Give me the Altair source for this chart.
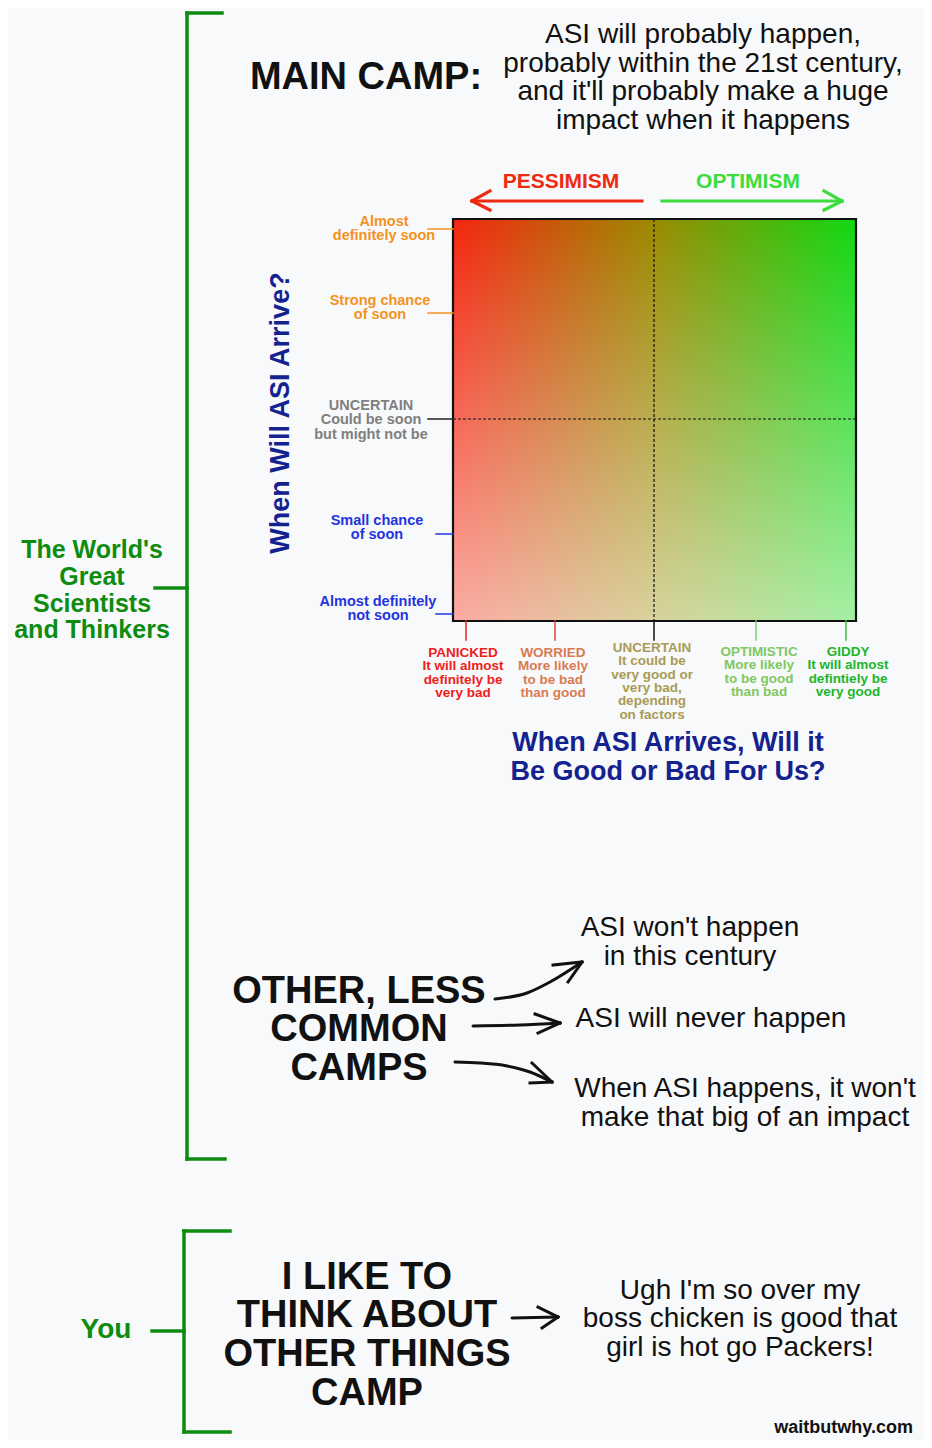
import altair as alt
import pandas as pd

# ---------------- data (texts, categories, colours) ----------------
main_camp_label = "MAIN CAMP:"
main_camp_desc = ["ASI will probably happen,", "probably within the 21st century,",
                  "and it'll probably make a huge", "impact when it happens"]

direction_labels = ["PESSIMISM", "OPTIMISM"]
direction_colors = ["#ee2a12", "#3ddc3d"]

y_axis_title = "When Will ASI Arrive?"
y_labels = [["Almost", "definitely soon"],
            ["Strong chance", "of soon"],
            ["UNCERTAIN", "Could be soon", "but might not be"],
            ["Small chance", "of soon"],
            ["Almost definitely", "not soon"]]
y_colors = ["#f4921e", "#f4921e", "#7f7f7f", "#2234dc", "#2234dc"]
y_tick_colors = ["#f4921e", "#f4921e", "#222222", "#2234dc", "#2234dc"]

x_axis_title = ["When ASI Arrives, Will it", "Be Good or Bad For Us?"]
x_categories = ["PANICKED", "WORRIED", "UNCERTAIN", "OPTIMISTIC", "GIDDY"]
x_descriptions = [["It will almost", "definitely be", "very bad"],
                  ["More likely", "to be bad", "than good"],
                  ["It could be", "very good or", "very bad,", "depending", "on factors"],
                  ["More likely", "to be good", "than bad"],
                  ["It will almost", "defintiely be", "very good"]]
x_colors = ["#ee2020", "#d97b52", "#a89b55", "#80c862", "#20b52c"]
x_tick_colors = ["#ee2020", "#e0402e", "#111111", "#7fd06a", "#34c040"]

# horizontal colour ramp of the grid (pessimism -> optimism) and lightening toward "not soon"
ramp_colors = ["#f52510", "#9a8a00", "#10d812"]
fade_colors = ["rgba(255,255,255,0)", "rgba(255,255,255,0.62)"]

group_label = ["The World's", "Great", "Scientists", "and Thinkers"]
other_camps_label = ["OTHER, LESS", "COMMON", "CAMPS"]
other_camps = [["ASI won't happen", "in this century"],
               ["ASI will never happen"],
               ["When ASI happens, it won't", "make that big of an impact"]]
you_label = "You"
you_camp_label = ["I LIKE TO", "THINK ABOUT", "OTHER THINGS", "CAMP"]
you_camp_desc = ["Ugh I'm so over my", "boss chicken is good that", "girl is hot go Packers!"]
credit = "waitbutwhy.com"

# ---------------- layout (page pixels) ----------------
FONT = "Liberation Sans"
GREEN = "#0e8c10"
NAVY = "#14228f"
BLACK = "#111111"
W, H = 916, 1432
xs = alt.Scale(domain=[8, 924], nice=False, zero=False)
ys = alt.Scale(domain=[8, 1440], nice=False, zero=False, reverse=True)

SQ = dict(x=453, x2=856, y=219, y2=621)
XMID, YMID = 654, 419
y_tick_y = [229, 313, 419, 534, 614]
y_tick_x0 = [428, 428, 428, 436, 436]
y_label_x = [384, 380, 371, 377, 378]
y_label_y = [221, 300, 405, 520, 601]
x_tick_x = [466, 555, 654, 756, 846]
x_label_x = [463, 553, 652, 759, 848]
x_label_y = [652, 652, 647, 651, 651]


def X(f="x"):
    return alt.X(f"{f}:Q", scale=xs, axis=None)


def Y(f="y"):
    return alt.Y(f"{f}:Q", scale=ys, axis=None)


def text_layer(rows, size, weight="bold", align="center", lh=None):
    df = pd.DataFrame(rows)
    df["y"] = df["y"] - 0.43 * size  # first-line centre -> top of text block
    return alt.Chart(df).mark_text(
        align=align, baseline="top", fontSize=size, fontWeight=weight, font=FONT,
        lineBreak="\n", lineHeight=lh if lh else size * 1.15
    ).encode(x=X(), y=Y(), text="t:N", color=alt.Color("c:N", scale=None))


layers = []

# gradient square
sq_df = pd.DataFrame([SQ])
layers.append(alt.Chart(sq_df).mark_rect(
    fill=alt.LinearGradient(gradient="linear", x1=0, x2=1, y1=0, y2=0,
                            stops=[alt.GradientStop(color=ramp_colors[0], offset=0),
                                   alt.GradientStop(color=ramp_colors[1], offset=0.5),
                                   alt.GradientStop(color=ramp_colors[2], offset=1)])
).encode(x=X("x"), x2="x2:Q", y=Y("y"), y2="y2:Q"))
layers.append(alt.Chart(sq_df).mark_rect(
    fill=alt.LinearGradient(gradient="linear", x1=0, x2=0, y1=0, y2=1,
                            stops=[alt.GradientStop(color=fade_colors[0], offset=0),
                                   alt.GradientStop(color=fade_colors[1], offset=1)])
).encode(x=X("x"), x2="x2:Q", y=Y("y"), y2="y2:Q"))

# dashed mid lines
mid_df = pd.DataFrame([dict(x=XMID, x2=XMID, y=SQ["y"], y2=SQ["y2"]),
                       dict(x=SQ["x"], x2=SQ["x2"], y=YMID, y2=YMID)])
layers.append(alt.Chart(mid_df).mark_rule(color=BLACK, strokeWidth=1.2, strokeDash=[3, 2]).encode(
    x=X("x"), x2="x2:Q", y=Y("y"), y2="y2:Q"))

# border
layers.append(alt.Chart(sq_df).mark_rect(fill=None, filled=False, stroke=BLACK, strokeWidth=2.2).encode(
    x=X("x"), x2="x2:Q", y=Y("y"), y2="y2:Q"))

# straight segments: ticks, brackets, arrows
segs = []
for i in range(5):
    segs.append(dict(x=y_tick_x0[i], x2=SQ["x"], y=y_tick_y[i], y2=y_tick_y[i], c=y_tick_colors[i], w=1.5))
    segs.append(dict(x=x_tick_x[i], x2=x_tick_x[i], y=SQ["y2"], y2=640, c=x_tick_colors[i], w=1.5))
# brackets
for (bx, top, bot, r1, r2, tick_x, tick_y) in [(187, 13, 1159, 222, 225, 155, 588),
                                                (184, 1231, 1432, 230, 230, 152, 1331)]:
    segs += [dict(x=bx, x2=bx, y=top, y2=bot, c=GREEN, w=3.5),
             dict(x=bx, x2=r1, y=top, y2=top, c=GREEN, w=3.5),
             dict(x=bx, x2=r2, y=bot, y2=bot, c=GREEN, w=3.5),
             dict(x=tick_x, x2=bx, y=tick_y, y2=tick_y, c=GREEN, w=3.5)]
# pessimism / optimism arrows
pc, oc = direction_colors
segs += [dict(x=472, x2=642, y=201, y2=201, c=pc, w=3.2),
         dict(x=472, x2=490, y=201, y2=191, c=pc, w=3.2),
         dict(x=472, x2=490, y=201, y2=210, c=pc, w=3.2),
         dict(x=662, x2=842, y=201, y2=201, c=oc, w=3.2),
         dict(x=842, x2=824, y=201, y2=191, c=oc, w=3.2),
         dict(x=842, x2=824, y=201, y2=210, c=oc, w=3.2)]
# arrow heads of the hand-drawn arrows
for (tx, ty, a1, a2) in [(582, 962, (553, 965), (568, 982)),
                         (560, 1023, (535, 1014), (538, 1033)),
                         (552, 1082, (532, 1063), (530, 1083)),
                         (558, 1317, (538, 1307), (542, 1328))]:
    segs.append(dict(x=a1[0], x2=tx, y=a1[1], y2=ty, c=BLACK, w=3))
    segs.append(dict(x=a2[0], x2=tx, y=a2[1], y2=ty, c=BLACK, w=3))
seg_df = pd.DataFrame(segs)
layers.append(alt.Chart(seg_df).mark_rule(strokeCap="square").encode(
    x=X("x"), x2="x2:Q", y=Y("y"), y2="y2:Q",
    color=alt.Color("c:N", scale=None), strokeWidth=alt.StrokeWidth("w:Q", scale=None)))

# curved shafts of hand-drawn arrows
shafts = [[(495, 999), (527, 993), (550, 982), (582, 962)],
          [(473, 1026), (520, 1025), (560, 1023)],
          [(455, 1062), (480, 1063), (507, 1066), (530, 1072), (552, 1082)],
          [(512, 1318), (558, 1317)]]
sh_rows = []
for k, pts in enumerate(shafts):
    for o, (px, py) in enumerate(pts):
        sh_rows.append(dict(id=k, o=o, x=px, y=py))
layers.append(alt.Chart(pd.DataFrame(sh_rows)).mark_line(
    interpolate="monotone", color=BLACK, strokeWidth=3, strokeCap="round").encode(
    x=X("x"), y=Y("y"), detail="id:N", order="o:Q"))

# ---------------- texts ----------------
layers.append(text_layer([dict(x=366, y=75, t=main_camp_label, c=BLACK)], 38))
layers.append(text_layer([dict(x=703, y=33, t="\n".join(main_camp_desc), c=BLACK)], 28, "normal", lh=28.7))
layers.append(text_layer([dict(x=561, y=180, t=direction_labels[0], c=direction_colors[0]),
                          dict(x=748, y=180, t=direction_labels[1], c=direction_colors[1])], 21))
layers.append(text_layer([dict(x=y_label_x[i], y=y_label_y[i], t="\n".join(y_labels[i]), c=y_colors[i])
                          for i in range(5)], 14.5, lh=14.6))
layers.append(text_layer([dict(x=x_label_x[i], y=x_label_y[i],
                               t="\n".join([x_categories[i]] + x_descriptions[i]), c=x_colors[i])
                          for i in range(5)], 13.5, lh=13.3))
layers.append(text_layer([dict(x=668, y=742, t="\n".join(x_axis_title), c=NAVY)], 27, lh=29))
layers.append(alt.Chart(pd.DataFrame([dict(x=281, y=413, t=y_axis_title)])).mark_text(
    angle=270, align="center", baseline="middle", fontSize=27, fontWeight="bold", font=FONT, color=NAVY
).encode(x=X(), y=Y(), text="t:N"))
layers.append(text_layer([dict(x=92, y=549, t="\n".join(group_label), c=GREEN)], 25, lh=26.7))
layers.append(text_layer([dict(x=359, y=989, t="\n".join(other_camps_label), c=BLACK)], 38, lh=38.5))
layers.append(text_layer([dict(x=690, y=926, t="\n".join(other_camps[0]), c=BLACK),
                          dict(x=711, y=1017, t="\n".join(other_camps[1]), c=BLACK),
                          dict(x=745, y=1087, t="\n".join(other_camps[2]), c=BLACK)], 28, "normal", lh=29))
layers.append(text_layer([dict(x=106, y=1328, t=you_label, c=GREEN)], 28))
layers.append(text_layer([dict(x=367, y=1275, t="\n".join(you_camp_label), c=BLACK)], 38, lh=38.7))
layers.append(text_layer([dict(x=740, y=1289, t="\n".join(you_camp_desc), c=BLACK)], 28, "normal", lh=28.5))
layers.append(text_layer([dict(x=913, y=1427, t=credit, c=BLACK)], 18, align="right"))

chart = alt.layer(*layers).properties(
    width=W, height=H, padding=0,
    autosize=alt.AutoSizeParams(type="none"),
    background="#f8f9fa"
).configure_view(stroke=None)

chart.save("out.html", embed_options={"renderer": "svg", "actions": False})
